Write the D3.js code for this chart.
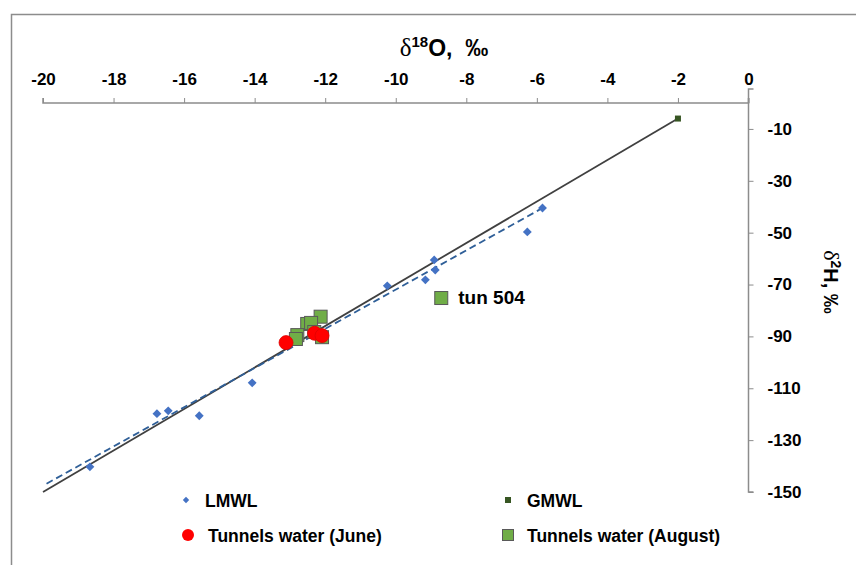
<!DOCTYPE html>
<html><head><meta charset="utf-8">
<script src="https://cdn.jsdelivr.net/npm/d3@7"></script>
<style>body{margin:0;background:#fff}svg{display:block}text{font-family:"Liberation Sans",Arial,sans-serif}</style>
</head><body><svg id="c" width="856" height="565"></svg>
<script>
// ---- data ----
const xTicks = [-20,-18,-16,-14,-12,-10,-8,-6,-4,-2,0];
const yTicks = [-10,-30,-50,-70,-90,-110,-130,-150];
const lmwlO = [-18.67,-16.77,-16.45,-15.57,-14.07,-10.24,-9.16,-8.91,-8.88,-6.27,-5.84];
const lmwlH = [-140.3,-119.8,-118.7,-120.6,-107.9,-70.5,-68.2,-60.5,-64.4,-49.7,-40.5];
const lmwlLineO = [-19.9,-5.84];
const lmwlLineH = [-146.8,-40.5];
const gmwlLineO = [-20,-2];
const gmwlLineH = [-150,-6];
const gmwlPointO = [-2];
const gmwlPointH = [-6];
const juneO = [-13.11,-12.30,-12.09];
const juneH = [-92.4,-88.8,-89.7];
const augO = [-12.13,-12.51,-12.40,-12.79,-12.83,-12.09,-12.31,-8.71];
const augH = [-82.4,-85.2,-84.8,-89.5,-91.0,-90.3,-88.3,-75.2];
const augLabels = ["","","","","","","","tun 504"];
const legendItems = ["LMWL","GMWL","Tunnels water (June)","Tunnels water (August)"];

const svg = d3.select("#c");
const x = d3.scaleLinear().domain([-20,0]).range([43,748.5]);
const y = d3.scaleLinear().domain([-150,0]).range([492,103]);

// outer border
svg.append("path").attr("d","M11.5,566 V14.5 H857").attr("fill","none").attr("stroke","#8c8c8c").attr("stroke-width",1.5);

// axes
const fmt = d => String(d);
const xa = svg.append("g").attr("transform",`translate(0,${y(0)})`)
  .call(d3.axisTop(x).tickValues(xTicks).tickSize(5).tickPadding(13).tickFormat(fmt));
const ya = svg.append("g").attr("transform",`translate(${x(0)},0)`)
  .call(d3.axisRight(y).tickValues(yTicks).tickSize(5).tickPadding(14).tickFormat(fmt));
[xa,ya].forEach(a=>{
  a.select(".domain").attr("stroke","#8c8c8c").attr("stroke-width",1.5);
  a.selectAll(".tick line").attr("stroke","#8c8c8c").attr("stroke-width",1);
  a.selectAll("text").attr("font-size",17).attr("font-weight","bold").attr("fill","#000")
   .attr("font-family","'Liberation Sans',Arial,sans-serif");
});
ya.select(".domain").attr("d",`M5,${y(0)-14}H0V${y(-150)}H5`);
ya.selectAll("text").attr("text-anchor","start").attr("dx",0);
xa.select(".domain").attr("d",`M${x(-20)},-5V0H${x(0)}V-5`);

// lines
const line = d3.line().x(d=>x(d[0])).y(d=>y(d[1]));
svg.append("path").attr("d",line(d3.zip(gmwlLineO,gmwlLineH))).attr("stroke","#404040").attr("stroke-width",1.8).attr("fill","none");
svg.append("path").attr("d",line(d3.zip(lmwlLineO,lmwlLineH))).attr("stroke","#2f5f98").attr("stroke-width",1.8).attr("stroke-dasharray","7,4").attr("fill","none");

// LMWL points
const diamond = d3.symbol().type(d3.symbolDiamond2);
svg.selectAll(".lm").data(d3.zip(lmwlO,lmwlH)).join("path")
  .attr("transform",d=>`translate(${x(d[0])},${y(d[1])})`)
  .attr("d",diamond.size(50)()).attr("fill","#4472c4");
// GMWL marker
svg.selectAll(".gm").data(d3.zip(gmwlPointO,gmwlPointH)).join("rect")
  .attr("x",d=>x(d[0])-3).attr("y",d=>y(d[1])-3).attr("width",6).attr("height",6)
  .attr("fill","#375623");
// August squares
svg.selectAll(".au").data(d3.zip(augO,augH)).join("rect")
  .attr("x",d=>x(d[0])-6.5).attr("y",d=>y(d[1])-6.5).attr("width",13).attr("height",13)
  .attr("fill","#70ad47").attr("stroke","#595959").attr("stroke-width",1);
// June circles
svg.selectAll(".ju").data(d3.zip(juneO,juneH)).join("circle")
  .attr("cx",d=>x(d[0])).attr("cy",d=>y(d[1])).attr("r",7)
  .attr("fill","#ff0000").attr("stroke","#e00000").attr("stroke-width",0.8);
// data labels
svg.selectAll(".lb").data(d3.zip(augO,augH,augLabels).filter(d=>d[2])).join("text")
  .attr("x",d=>x(d[0])+17).attr("y",d=>y(d[1])+6).attr("font-size",19).attr("font-weight","bold")
  .attr("font-family","Carlito,Calibri,'Open Sans',sans-serif").text(d=>d[2]);

// titles
const t = svg.append("text").attr("x",444).attr("y",56).attr("text-anchor","middle").attr("font-weight","bold").attr("font-size",23);
t.append("tspan").attr("font-family","'Liberation Serif',serif").attr("font-weight","normal").attr("font-size",25).text("δ");
t.append("tspan").attr("font-size",15).attr("dy",-9).text("18");
t.append("tspan").attr("dy",9).text("O,\u00a0\u00a0‰");
const t2 = svg.append("text").attr("transform","translate(824,282) rotate(90)").attr("text-anchor","middle").attr("font-weight","bold").attr("font-size",20);
t2.append("tspan").attr("font-family","'Liberation Serif',serif").attr("font-weight","normal").attr("font-size",22).text("δ");
t2.append("tspan").attr("font-size",14).attr("dy",-7).text("2");
t2.append("tspan").attr("dy",7).text("H, ‰");

// legend
const lg = [[186,500],[508,500],[188,535],[508,535]];
const L = svg.append("g");
legendItems.forEach((name,i)=>{
  const [lx,ly]=lg[i];
  if(i===0) L.append("path").attr("transform",`translate(${lx},${ly})`).attr("d",d3.symbol().type(d3.symbolDiamond2).size(26)()).attr("fill","#4472c4");
  if(i===1) L.append("rect").attr("x",lx-3).attr("y",ly-3).attr("width",6).attr("height",6).attr("fill","#375623");
  if(i===2) L.append("circle").attr("cx",lx).attr("cy",ly).attr("r",6).attr("fill","#ff0000");
  if(i===3) L.append("rect").attr("x",lx-5.5).attr("y",ly-5.5).attr("width",11).attr("height",11).attr("fill","#70ad47").attr("stroke","#595959");
  L.append("text").attr("x",lx+(i===2?20:19)).attr("y",ly+6.5).attr("font-size",17.5).attr("font-weight","bold").text(name);
});
</script></body></html>
